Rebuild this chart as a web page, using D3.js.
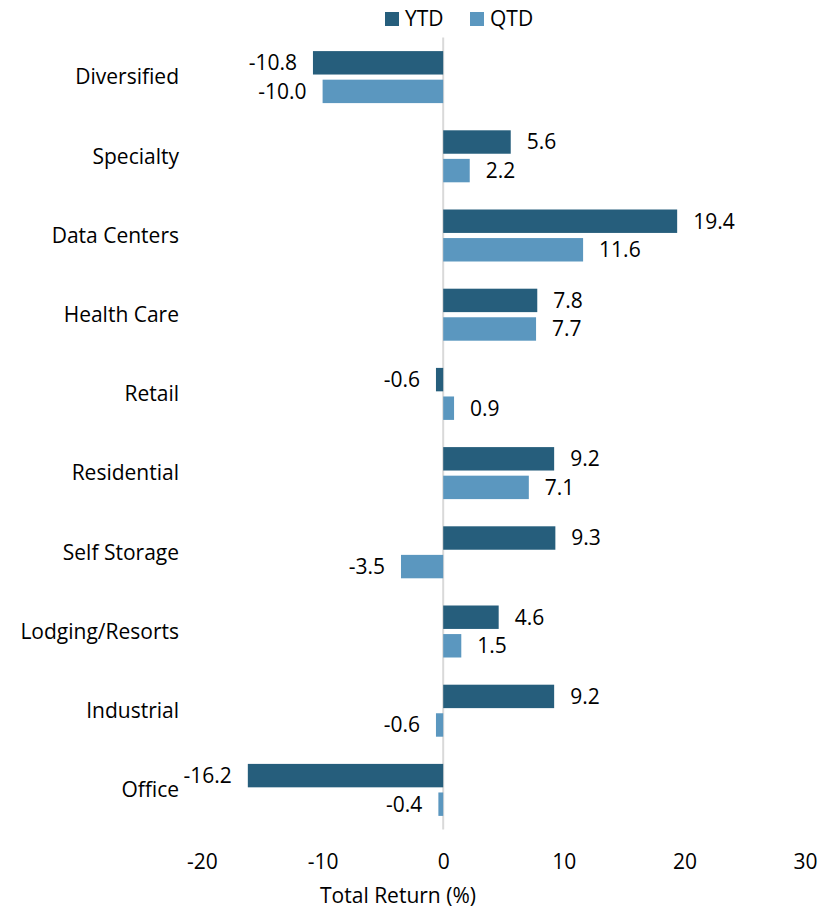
<!DOCTYPE html>
<html>
<head>
<meta charset="utf-8">
<script src="https://cdn.jsdelivr.net/npm/d3@7"></script>
<style>
  html, body { margin: 0; padding: 0; background: #fff; }
  svg { display: block; font-family: "Open Sans", Lato, sans-serif; }
</style>
</head>
<body>
<svg id="chart" width="835" height="910"></svg>
<script>
// Sector total returns (%)
const categories = ["Diversified", "Specialty", "Data Centers", "Health Care", "Retail",
  "Residential", "Self Storage", "Lodging/Resorts", "Industrial", "Office"];
const ytd = [-10.8, 5.6, 19.4, 7.8, -0.6, 9.2, 9.3, 4.6, 9.2, -16.2];
const qtd = [-10.0, 2.2, 11.6, 7.7, 0.9, 7.1, -3.5, 1.5, -0.6, -0.4];
const xTicks = [-20, -10, 0, 10, 20, 30];
const seriesNames = ["YTD", "QTD"];
const colors = ["#265e7c", "#5b97bf"];

const svg = d3.select("#chart");
const fontSize = 21;
const fontFamily = "'Open Sans', Lato, sans-serif";

const x = d3.scaleLinear().domain([-20, 30]).range([202, 805]);
const y = d3.scaleBand().domain(categories).range([37.5, 829.5]).paddingInner(0).paddingOuter(0);
const sub = d3.scaleBand().domain(seriesNames).range([y.bandwidth() / 2 - 26, y.bandwidth() / 2 + 26]).paddingInner(0.18);

const series = seriesNames.map((name, i) => ({ name, values: i === 0 ? ytd : qtd, color: colors[i] }));

// zero line
svg.append("line")
  .attr("x1", x(0)).attr("x2", x(0))
  .attr("y1", y.range()[0]).attr("y2", y.range()[1])
  .attr("stroke", "#d9d9d9").attr("stroke-width", 2);

// bars and value labels
const groups = svg.append("g").selectAll("g")
  .data(categories)
  .join("g")
  .attr("transform", d => `translate(0,${y(d)})`);

series.forEach(s => {
  groups.append("rect")
    .attr("x", (d, i) => x(Math.min(0, s.values[i])))
    .attr("y", sub(s.name))
    .attr("width", (d, i) => Math.abs(x(s.values[i]) - x(0)))
    .attr("height", sub.bandwidth())
    .attr("fill", s.color);

  groups.append("text")
    .attr("x", (d, i) => s.values[i] >= 0 ? x(s.values[i]) + 16 : x(s.values[i]) - 16)
    .attr("y", sub(s.name) + sub.bandwidth() / 2)
    .attr("dy", "0.35em")
    .attr("text-anchor", (d, i) => s.values[i] >= 0 ? "start" : "end")
    .attr("font-size", fontSize)
    .attr("fill", "#000")
    .text((d, i) => s.values[i].toFixed(1));
});

// category labels
svg.append("g").selectAll("text")
  .data(categories)
  .join("text")
  .attr("x", 179)
  .attr("y", d => y(d) + y.bandwidth() / 2)
  .attr("dy", "0.35em")
  .attr("text-anchor", "end")
  .attr("font-size", fontSize)
  .attr("fill", "#000")
  .text(d => d);

// x axis tick labels
const xAxis = d3.axisBottom(x).tickValues(xTicks).tickSize(0).tickPadding(0).tickFormat(d => String(d));
const gx = svg.append("g").attr("transform", "translate(0,854)").call(xAxis);
gx.select(".domain").remove();
gx.selectAll("text")
  .attr("font-size", fontSize)
  .attr("font-family", fontFamily)
  .attr("fill", "#000");

// axis title
svg.append("text")
  .attr("x", 398).attr("y", 903)
  .attr("text-anchor", "middle")
  .attr("font-size", fontSize)
  .attr("fill", "#000")
  .text("Total Return (%)");

// legend
const legendX = [385, 470];
const legend = svg.append("g").selectAll("g")
  .data(series)
  .join("g")
  .attr("transform", (d, i) => `translate(${legendX[i]},12)`);
legend.append("rect").attr("width", 14).attr("height", 14).attr("fill", d => d.color);
legend.append("text")
  .attr("x", 20).attr("y", 7).attr("dy", "0.35em")
  .attr("font-size", fontSize).attr("fill", "#000")
  .text(d => d.name);
</script>
</body>
</html>
